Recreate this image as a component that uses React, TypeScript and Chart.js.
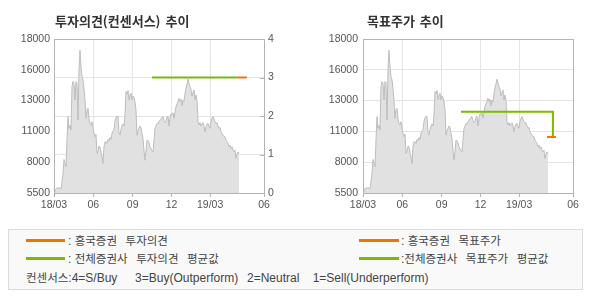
import React, { useEffect, useRef } from "react";
import { Chart, registerables } from "chart.js";

Chart.register(...registerables);

// ---- data ----
const X_TICK_DAYS = [0, 92, 184, 275, 365, 491]; // days since 2018-03-01
const X_TICK_LABELS = ["18/03", "06", "09", "12", "19/03", "06"];
const PRICE_Y_TICKS = [5500, 8000, 10500, 13000, 15500, 18000];
const PRICE_Y_LABELS = ["5500", "8000", "11000", "13000", "16000", "18000"];
const OPINION_TICKS = [0, 1, 2, 3, 4];
const OPINION_LABELS = ["0", "1", "2", "3", "4"];
const PRICE_STEP_DAYS = 2.338;
const PRICES = [
  5580, 5720, 5850, 5880, 5910, 5910, 5910, 5830, 6400, 7080,
  8220, 7950, 7620, 9790, 11700, 10750, 11020, 10610, 14140, 14550,
  14410, 13050, 14550, 14410, 11420, 15500, 17080, 15770, 14960, 14690,
  14010, 13050, 11560, 12240, 12380, 11560, 11150, 11020, 11290, 10750,
  10340, 10070, 10260, 8710, 8920, 9300, 9250, 8760, 8490, 7890,
  9250, 9660, 9660, 9520, 9850, 9740, 10010, 9850, 10340, 10550,
  10610, 11290, 11640, 11700, 11750, 10390, 10200, 10660, 10940, 11100,
  10940, 11830, 13730, 13540, 13820, 13050, 13460, 13600, 13050, 13380,
  13270, 12920, 12240, 10200, 10550, 10750, 10940, 10830, 10340, 9930,
  8980, 8160, 8840, 9790, 9740, 9580, 9250, 9110, 8920, 8840,
  9790, 10750, 10940, 11150, 11100, 11290, 11420, 11480, 11640, 11700,
  11370, 11210, 11290, 11640, 11750, 10940, 11560, 11910, 11830, 12020,
  11560, 12020, 12510, 12730, 12920, 13190, 12920, 13110, 12570, 13050,
  12920, 13600, 14010, 14360, 14740, 14410, 14140, 13920, 13380, 13650,
  13870, 13050, 13460, 13050, 11290, 11020, 11210, 10940, 11100, 11210,
  10940, 10470, 10880, 11100, 11150, 10940, 10750, 11290, 11560, 11700,
  11480, 11290, 11150, 11210, 10940, 10750, 10830, 10470, 10340, 10200,
  10070, 10070, 9790, 9660, 9520, 9250, 9390, 9110, 9250, 8980,
  8840, 8980, 8300, 8650, 8840, 8710,
];
const OPINION_AVG = [{ x: 229, y: 3 }, { x: 430, y: 3 }];
const OPINION_OWN = [{ x: 430, y: 3 }, { x: 451, y: 3 }];
const TARGET_AVG = [{ x: 229, y: 12100 }, { x: 444, y: 12100 }, { x: 444, y: 10050 }];
const TARGET_OWN = [{ x: 430, y: 10050 }, { x: 451, y: 10050 }];

const ORANGE = "#f07400";
const GREEN = "#7cba00";
const GRID = "#e4e4e4";
const FRAME = "#b4b4b4";
const TICK_FONT = { family: '"Liberation Sans", Arial, sans-serif', size: 10.5 };
const TICK_COLOR = "#555";

const boxPlugin = {
  id: "box",
  afterDraw(chart: any) {
    const { ctx, chartArea: a } = chart;
    ctx.save();
    ctx.strokeStyle = FRAME;
    ctx.lineWidth = 1;
    ctx.strokeRect(
      Math.round(a.left) + 0.5,
      Math.round(a.top) + 0.5,
      Math.round(a.right - a.left),
      Math.round(a.bottom - a.top)
    );
    const y1 = chart.scales.y1;
    if (y1) {
      ctx.beginPath();
      for (const t of y1.ticks) {
        const py = Math.round(y1.getPixelForValue(t.value)) + 0.5;
        ctx.moveTo(Math.round(a.right) - 4, py);
        ctx.lineTo(Math.round(a.right), py);
      }
      ctx.stroke();
    }
    ctx.restore();
  },
};

function setTicks(values: number[]) {
  return (s: any) => {
    s.ticks = values.map((v) => ({ value: v }));
  };
}

function PriceChart({ kind }: { kind: "opinion" | "target" }) {
  const ref = useRef<HTMLCanvasElement>(null);
  useEffect(() => {
    const priceData = PRICES.map((p, i) => ({ x: i * PRICE_STEP_DAYS, y: p }));
    const isOpinion = kind === "opinion";
    const lineAxis = isOpinion ? "y1" : "y";
    const datasets: any[] = [
      {
        data: isOpinion ? OPINION_OWN : TARGET_OWN,
        borderColor: ORANGE,
        borderWidth: 2,
        pointRadius: 0,
        fill: false,
        yAxisID: lineAxis,
        borderCapStyle: "butt",
      },
      {
        data: isOpinion ? OPINION_AVG : TARGET_AVG,
        borderColor: GREEN,
        borderWidth: 2,
        pointRadius: 0,
        fill: false,
        yAxisID: lineAxis,
        borderCapStyle: "butt",
      },
      {
        data: priceData,
        borderColor: "#bdbdbd",
        borderWidth: 1,
        backgroundColor: "#e1e1e1",
        fill: "start",
        pointRadius: 0,
        tension: 0,
        yAxisID: "y",
      },
    ];
    const scales: any = {
      x: {
        type: "linear",
        min: 0,
        max: 491,
        afterBuildTicks: setTicks(X_TICK_DAYS),
        afterFit: (s: any) => {
          s.height = 22;
        },
        ticks: {
          callback: (_v: any, i: number) => X_TICK_LABELS[i],
          autoSkip: false,
          maxRotation: 0,
          padding: 2,
          color: TICK_COLOR,
          font: TICK_FONT,
        },
        grid: { color: GRID, tickColor: FRAME, tickLength: 4 },
        border: { display: false },
      },
      y: {
        type: "linear",
        position: "left",
        min: 5500,
        max: 18000,
        afterBuildTicks: setTicks(PRICE_Y_TICKS),
        afterFit: (s: any) => {
          s.width = isOpinion ? 54 : 68;
        },
        ticks: {
          callback: (_v: any, i: number) => PRICE_Y_LABELS[i],
          padding: isOpinion ? 4 : 5,
          color: TICK_COLOR,
          font: TICK_FONT,
        },
        grid: { display: !isOpinion, color: GRID, drawTicks: false },
        border: { display: false },
      },
    };
    if (isOpinion) {
      scales.y1 = {
        type: "linear",
        position: "right",
        min: 0,
        max: 4,
        afterBuildTicks: setTicks(OPINION_TICKS),
        afterFit: (s: any) => {
          s.width = 31;
        },
        ticks: {
          callback: (_v: any, i: number) => OPINION_LABELS[i],
          padding: 4,
          color: TICK_COLOR,
          font: TICK_FONT,
        },
        grid: { color: GRID, drawTicks: false },
        border: { display: false },
      };
    }
    const chart = new Chart(ref.current as HTMLCanvasElement, {
      type: "line",
      data: { datasets },
      options: {
        animation: false,
        responsive: false,
        devicePixelRatio: 1,
        layout: { padding: { top: 39, left: 0, right: isOpinion ? 0 : 17, bottom: 0 } },
        plugins: { legend: { display: false }, tooltip: { enabled: false }, title: { display: false } },
        scales,
      },
      plugins: [boxPlugin],
    } as any);
    return () => chart.destroy();
  }, [kind]);
  return <canvas ref={ref} width={295} height={215} style={{ display: "block" }} />;
}

const hangul = (s: string) => (
  <span style={{ fontFamily: '"Noto Sans CJK KR", sans-serif', fontSize: 11.5, wordSpacing: 6 }}>{s}</span>
);

const legendText: React.CSSProperties = {
  position: "absolute",
  fontFamily: '"Liberation Sans", "Noto Sans CJK KR", sans-serif',
  fontSize: 12,
  lineHeight: "14px",
  color: "#444",
  whiteSpace: "pre",
};

function LegendLine({ left, top, width, color }: { left: number; top: number; width: number; color: string }) {
  return <div style={{ position: "absolute", left, top, width, height: 3, background: color }} />;
}

const titleStyle: React.CSSProperties = {
  position: "absolute",
  top: 14,
  fontFamily: '"Noto Sans CJK KR", sans-serif',
  fontWeight: 700,
  fontSize: 13,
  lineHeight: "14px",
  color: "#333",
  wordSpacing: 2,
  whiteSpace: "pre",
};

export default function App() {
  return (
    <div style={{ position: "absolute", left: 0, top: 0, width: 590, height: 300, background: "#fff", overflow: "hidden" }}>
      <div style={{ position: "absolute", left: 0, top: 0 }}>
        <PriceChart kind="opinion" />
      </div>
      <div style={{ position: "absolute", left: 295, top: 0 }}>
        <PriceChart kind="target" />
      </div>
      <div style={{ ...titleStyle, left: 55 }}>투자의견(컨센서스) 추이</div>
      <div style={{ ...titleStyle, left: 367 }}>목표주가 추이</div>

      <div
        style={{
          position: "absolute",
          left: 8,
          top: 229,
          width: 575,
          height: 61,
          boxSizing: "border-box",
          border: "1px solid #dcdcdc",
          background: "#f9f9f9",
        }}
      />
      <LegendLine left={26} top={239} width={39} color={ORANGE} />
      <div style={{ ...legendText, left: 68, top: 233 }}>: {hangul("흥국증권 투자의견")}</div>
      <LegendLine left={26} top={257} width={39} color={GREEN} />
      <div style={{ ...legendText, left: 68, top: 251 }}>: {hangul("전체증권사 투자의견 평균값")}</div>

      <LegendLine left={359} top={239} width={40} color={ORANGE} />
      <div style={{ ...legendText, left: 401, top: 233 }}>: {hangul("흥국증권 목표주가")}</div>
      <LegendLine left={359} top={257} width={40} color={GREEN} />
      <div style={{ ...legendText, left: 401, top: 251 }}>:{hangul("전체증권사 목표주가 평균값")}</div>

      <div style={{ ...legendText, left: 26, top: 270, wordSpacing: 1.1 }}>
        {hangul("컨센서스")}:4=S/Buy    3=Buy(Outperform)  2=Neutral   1=Sell(Underperform)
      </div>
    </div>
  );
}
